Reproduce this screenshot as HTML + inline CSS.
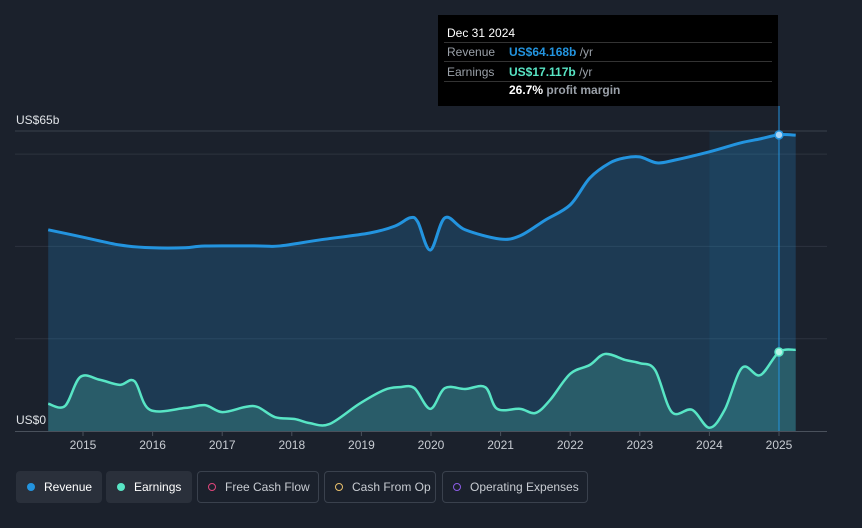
<!DOCTYPE html>
<html><head><meta charset="utf-8"><style>
body{margin:0;background:#1b212c;width:862px;height:528px;overflow:hidden;font-family:"Liberation Sans",sans-serif}
svg{position:absolute;left:0;top:0}
.leg{position:absolute;top:471px;height:32px;border:1px solid #3a414d;border-radius:4px;box-sizing:border-box;display:flex;align-items:center;padding:0 10px;font-size:12px;color:#fff;white-space:nowrap}
.dot{width:8px;height:8px;border-radius:50%;margin-right:9px;box-sizing:border-box;flex-shrink:0}
</style></head><body>
<svg id="c" width="862" height="528"></svg>
<div class="leg" style="left:16px;width:86px;background:#2a303b;border-color:#2a303b"><span class="dot" style="background:#2394df"></span>Revenue</div>
<div class="leg" style="left:106px;width:86px;background:#2a303b;border-color:#2a303b"><span class="dot" style="background:#58e5c5"></span>Earnings</div>
<div class="leg" style="left:197px;width:122px;color:#c8ccd2"><span class="dot" style="border:1.5px solid #e0457b"></span>Free Cash Flow</div>
<div class="leg" style="left:324px;width:112px;color:#c8ccd2"><span class="dot" style="border:1.5px solid #e8bf6c"></span>Cash From Op</div>
<div class="leg" style="left:442px;width:146px;color:#c8ccd2"><span class="dot" style="border:1.5px solid #8c5ce6"></span>Operating Expenses</div>
<div style="position:absolute;left:438px;top:15px;width:340px;height:91px;background:#000;font-size:12px;color:#fff">
<div style="position:absolute;left:9px;top:11px;font-size:12px">Dec 31 2024</div>
<div style="position:absolute;left:6px;top:27px;width:328px;border-top:1px solid #333"></div>
<div style="position:absolute;left:9px;top:30px;color:#9aa0a8">Revenue</div><div style="position:absolute;left:71px;top:30px;color:#2394df;font-weight:bold">US$64.168b <span style="color:#9aa0a8;font-weight:normal">/yr</span></div>
<div style="position:absolute;left:6px;top:46px;width:328px;border-top:1px solid #333"></div>
<div style="position:absolute;left:9px;top:50px;color:#9aa0a8">Earnings</div><div style="position:absolute;left:71px;top:50px;color:#58e5c5;font-weight:bold">US$17.117b <span style="color:#9aa0a8;font-weight:normal">/yr</span></div>
<div style="position:absolute;left:6px;top:66px;width:328px;border-top:1px solid #333"></div>
<div style="position:absolute;left:71px;top:68px;font-weight:bold">26.7% <span style="color:#9aa0a8">profit margin</span></div>
</div>
<script>
const revYears=[2014.5,2015,2015.53,2015.99,2016.47,2016.75,2017.54,2017.83,2018.4,2019.12,2019.48,2019.7,2019.81,2019.99,2020.2,2020.49,2020.99,2021.28,2021.64,2022.0,2022.28,2022.57,2022.79,2023.0,2023.25,2023.5,2024.0,2024.44,2024.73,2025.0,2025.24];
const revValues=[43.6,42.0,40.3,39.7,39.7,40.1,40.1,40.1,41.4,42.9,44.4,46.2,45.3,39.2,46.2,43.6,41.6,42.3,45.7,49.0,54.8,58.1,59.2,59.4,58.1,58.7,60.5,62.4,63.3,64.2,64.1];
const earnYears=[2014.5,2014.74,2014.96,2015.24,2015.53,2015.74,2015.96,2016.47,2016.75,2017.0,2017.33,2017.51,2017.76,2018.04,2018.26,2018.54,2018.97,2019.33,2019.55,2019.76,2019.99,2020.2,2020.49,2020.78,2020.95,2021.28,2021.5,2021.71,2022.0,2022.28,2022.5,2022.79,2023.0,2023.22,2023.46,2023.75,2024.0,2024.22,2024.47,2024.73,2025.0,2025.24];
const earnValues=[5.9,5.4,11.7,11.1,10.0,10.8,4.6,5.0,5.6,4.1,5.2,5.2,3.0,2.6,1.7,1.5,5.9,8.9,9.5,9.3,4.8,9.3,9.1,9.5,4.8,4.8,3.9,6.7,12.4,14.3,16.7,15.4,14.7,13.2,4.1,4.6,0.7,4.6,13.7,12.1,17.1,17.6];
const yTicks=[0,65];
const xTicks=[2015,2016,2017,2018,2019,2020,2021,2022,2023,2024,2025];
const X=y=>83+(y-2015)*69.6, Y=v=>431-v*4.615;
const s=document.getElementById('c'),NS='http://www.w3.org/2000/svg';
function el(t,a,p){const e=document.createElementNS(NS,t);for(const k in a)e.setAttribute(k,a[k]);(p||s).appendChild(e);return e;}
function path(xs,vs){const p=xs.map((x,i)=>[X(x),Y(vs[i])]);let d='M'+p[0];for(let i=0;i<p.length-1;i++){const a=p[i-1]||p[i],b=p[i],c=p[i+1],e=p[i+2]||c;d+=`C${b[0]+(c[0]-a[0])/6},${b[1]+(c[1]-a[1])/6} ${c[0]-(e[0]-b[0])/6},${c[1]-(e[1]-b[1])/6} ${c[0]},${c[1]}`;}return [d,p];}
[20,40,60].forEach(v=>{const g=el('line',{x1:15,x2:827,y1:Y(v),y2:Y(v),stroke:'#2c333e'});});
const topLine=el('line',{x1:15,x2:827,y1:Y(65),y2:Y(65),stroke:'#3a414d'});


const hl=el('rect',{x:X(2024),y:Y(65),width:X(2025)-X(2024),height:Y(0)-Y(65),fill:'#2394df',opacity:0.08});
const [rd,rp]=path(revYears,revValues);
const ra=el('path',{d:rd+`L${rp[rp.length-1][0]},431L${rp[0][0]},431Z`,fill:'#2394df',opacity:0.22});
const [ed,ep]=path(earnYears,earnValues);
const ea=el('path',{d:ed+`L${ep[ep.length-1][0]},431L${ep[0][0]},431Z`,fill:'#58e5c5',opacity:0.2});
const rl=el('path',{d:rd,fill:'none',stroke:'#2394df','stroke-width':3});
const el2=el('path',{d:ed,fill:'none',stroke:'#58e5c5','stroke-width':2.5});
const vl=el('line',{x1:X(2025),x2:X(2025),y1:106,y2:431,stroke:'#2394df','stroke-width':1});
const c1=el('circle',{cx:X(2025),cy:Y(64.168),r:4,fill:'#a9d4f5',stroke:'#2394df','stroke-width':1.5});
const c2=el('circle',{cx:X(2025),cy:Y(17.117),r:4,fill:'#b5f4e6',stroke:'#58e5c5','stroke-width':1.5});
const ax=el('line',{x1:15,x2:827,y1:431.5,y2:431.5,stroke:'#4a515c'});
xTicks.forEach(t=>{const tk=el('line',{x1:X(t),x2:X(t),y1:431,y2:436,stroke:'#4a515c'});
const tx=el('text',{x:X(t),y:449,fill:'#c8ccd2','font-size':12,'text-anchor':'middle'});tx.textContent=t;});
yTicks.forEach(v=>{const tx=el('text',{x:16,y:Y(v)-7,fill:'#e0e3e7','font-size':12});tx.textContent=v?'US$'+v+'b':'US$0';});
</script>
</body></html>
